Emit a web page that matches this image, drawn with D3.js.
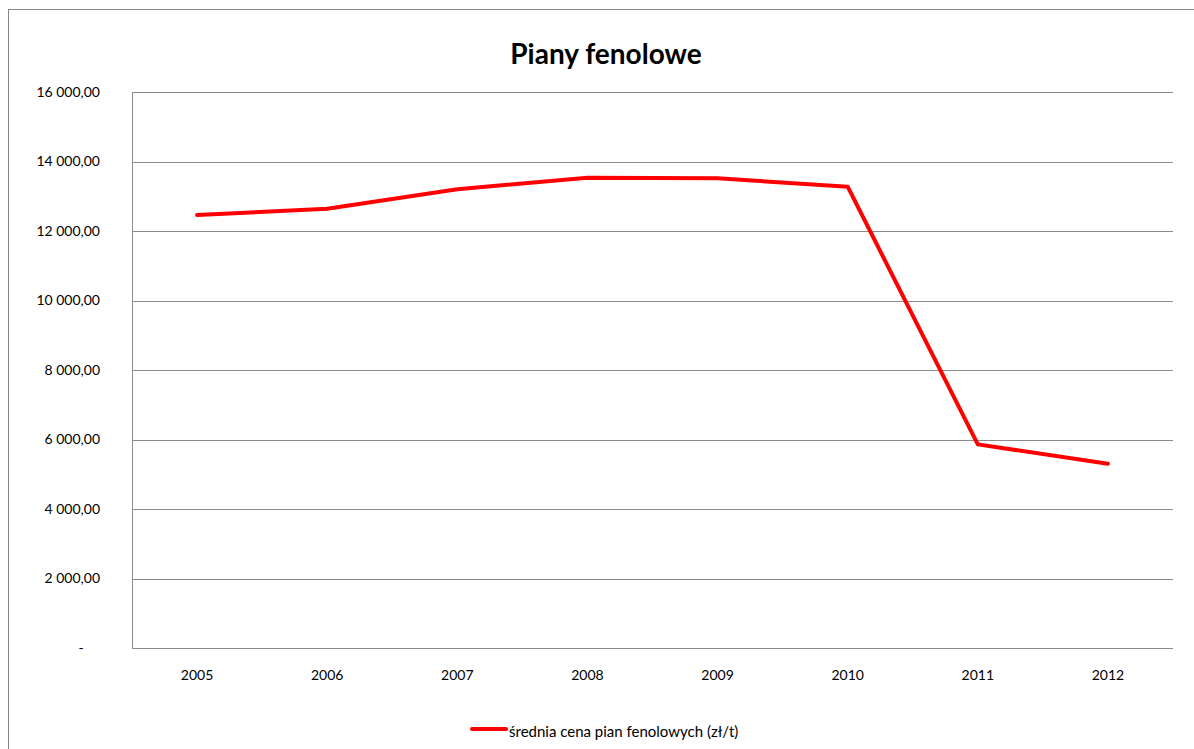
<!DOCTYPE html>
<html>
<head>
<meta charset="utf-8">
<script src="https://cdn.jsdelivr.net/npm/d3@7"></script>
<style>
body {
    margin: 0;
    background: #fff;
    font-family: Lato, "Open Sans", sans-serif;
}
svg text { fill: #000; }
</style>
</head>
<body>
<svg id="chart" width="1194" height="749"></svg>
<script>
const years = ["2005", "2006", "2007", "2008", "2009", "2010", "2011", "2012"];
const prices = [12460, 12640, 13200, 13535, 13515, 13275, 5860, 5300];
const yTicks = [0, 2000, 4000, 6000, 8000, 10000, 12000, 14000, 16000];
const title = "Piany fenolowe";
const seriesName = "średnia cena pian fenolowych (zł/t)";

const width = 1194, height = 749;
const margin = {left: 132, right: 21, top: 92, bottom: 101};

const svg = d3.select("#chart");

// chart border (extends past the right and bottom edges)
svg.append("rect")
    .attr("x", 8.5).attr("y", 9.5)
    .attr("width", 1300).attr("height", 900)
    .attr("fill", "none")
    .attr("stroke", "#868686");

const x = d3.scaleBand()
    .domain(years)
    .range([margin.left, width - margin.right]);

const y = d3.scaleLinear()
    .domain([0, 16000])
    .range([height - margin.bottom, margin.top]);

const fmt = v => v === 0 ? "-" : d3.format(",.2f")(v).replace(/,/g, " ").replace(".", ",");

// gridlines
svg.append("g")
    .selectAll("line")
    .data(yTicks)
    .join("line")
    .attr("x1", margin.left)
    .attr("x2", width - margin.right)
    .attr("y1", d => Math.round(y(d)) + 0.5)
    .attr("y2", d => Math.round(y(d)) + 0.5)
    .attr("stroke", "#8c8c8c")
    .attr("stroke-width", 1);

// y axis line
svg.append("line")
    .attr("x1", margin.left + 0.5).attr("x2", margin.left + 0.5)
    .attr("y1", y(16000)).attr("y2", y(0))
    .attr("stroke", "#8c8c8c");

// y labels
svg.append("g")
    .selectAll("text")
    .data(yTicks)
    .join("text")
    .attr("x", d => d === 0 ? 81 : 100)
    .attr("y", d => y(d))
    .attr("dy", "0.35em")
    .attr("text-anchor", d => d === 0 ? "middle" : "end")
    .attr("font-size", 14)
    .text(fmt);

// x labels
svg.append("g")
    .selectAll("text")
    .data(years)
    .join("text")
    .attr("x", d => x(d) + x.bandwidth() / 2)
    .attr("y", y(0) + 27)
    .attr("dy", "0.35em")
    .attr("text-anchor", "middle")
    .attr("font-size", 14)
    .text(d => d);

// line
const line = d3.line()
    .x((d, i) => x(years[i]) + x.bandwidth() / 2)
    .y(d => y(d));

svg.append("path")
    .datum(prices)
    .attr("d", line)
    .attr("fill", "none")
    .attr("stroke", "#ff0000")
    .attr("stroke-width", 4)
    .attr("stroke-linejoin", "round")
    .attr("stroke-linecap", "round");

// title
svg.append("text")
    .attr("x", 606)
    .attr("y", 54)
    .attr("dy", "0.35em")
    .attr("text-anchor", "middle")
    .attr("font-size", 28)
    .attr("font-weight", "bold")
    .text(title);

// legend
svg.append("line")
    .attr("x1", 472).attr("x2", 506)
    .attr("y1", 729).attr("y2", 729)
    .attr("stroke", "#ff0000")
    .attr("stroke-width", 4)
    .attr("stroke-linecap", "round");

svg.append("text")
    .attr("x", 509)
    .attr("y", 732)
    .attr("dy", "0.35em")
    .attr("font-size", 15)
    .text(seriesName);
</script>
</body>
</html>
